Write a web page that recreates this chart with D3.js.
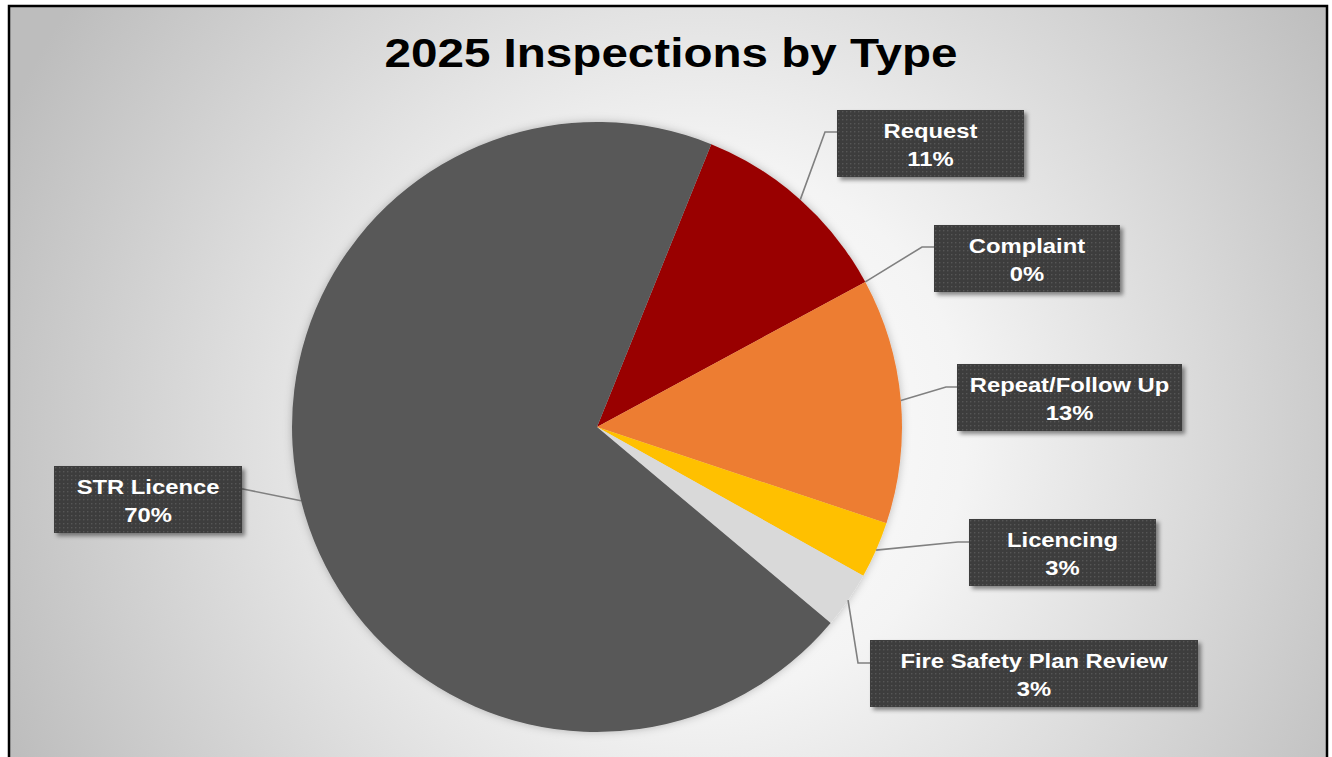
<!DOCTYPE html>
<html>
<head>
<meta charset="utf-8">
<script src="https://cdn.jsdelivr.net/npm/d3@7"></script>
<style>
  html, body { margin: 0; padding: 0; background: #ffffff; }
  svg { display: block; }
</style>
</head>
<body>
<svg id="chart" width="1332" height="757"></svg>
<script>
// Inspection counts by type (percent of total)
const categories = ["Request", "Complaint", "Repeat/Follow Up", "Licencing", "Fire Safety Plan Review", "STR Licence"];
const values = [11, 0, 13, 3, 3, 70];
const labelTexts = ["11%", "0%", "13%", "3%", "3%", "70%"];
const sliceColors = ["#990000", "#c00000", "#ed7d31", "#ffc000", "#d9d9d9", "#595959"];

// Label box placement (left, top, width) and leader-line elbow
const labelLayout = [
  { x: 837, y: 110, w: 187, ex: 825, ey: 132 },
  { x: 934, y: 225, w: 186, ex: 922, ey: 247 },
  { x: 957, y: 364, w: 225, ex: 946, ey: 387 },
  { x: 969, y: 519, w: 187, ex: 958, ey: 542 },
  { x: 870, y: 640, w: 328, ex: 858, ey: 663 },
  { x: 54,  y: 466, w: 188, ex: 243, ey: 489 }
];

const W = 1332, H = 757;
const cx = 597, cy = 427, R = 305;
const startDeg = 22;
const textStretch = 1.19; // wide-set lettering

const svg = d3.select("#chart");
const defs = svg.append("defs");

// Background radial shading
const bg = defs.append("radialGradient")
  .attr("id", "bgGrad")
  .attr("gradientUnits", "userSpaceOnUse")
  .attr("cx", 700).attr("cy", 430).attr("r", 760);
bg.append("stop").attr("offset", 0).attr("stop-color", "#ffffff");
bg.append("stop").attr("offset", 0.35).attr("stop-color", "#f4f4f4");
bg.append("stop").attr("offset", 1).attr("stop-color", "#bdbdbd");

// Dotted texture for label boxes
const pat = defs.append("pattern")
  .attr("id", "dots")
  .attr("patternUnits", "userSpaceOnUse")
  .attr("width", 4).attr("height", 4);
pat.append("rect").attr("width", 4).attr("height", 4).attr("fill", "#3c3c3c");
pat.append("rect").attr("x", 1).attr("y", 1).attr("width", 1.4).attr("height", 1.4).attr("fill", "#575757");

// Soft shadows
const boxShadow = defs.append("filter").attr("id", "boxShadow")
  .attr("x", "-10%").attr("y", "-20%").attr("width", "130%").attr("height", "160%");
boxShadow.append("feDropShadow")
  .attr("dx", 3).attr("dy", 3).attr("stdDeviation", 2.2)
  .attr("flood-color", "#000").attr("flood-opacity", 0.45);

const pieShadow = defs.append("filter").attr("id", "pieShadow")
  .attr("x", "-10%").attr("y", "-10%").attr("width", "120%").attr("height", "120%");
pieShadow.append("feDropShadow")
  .attr("dx", 0).attr("dy", 0).attr("stdDeviation", 4)
  .attr("flood-color", "#000").attr("flood-opacity", 0.25);

// Chart area background and frame
svg.append("rect")
  .attr("x", 9).attr("y", 6).attr("width", 1318).attr("height", 760)
  .attr("fill", "url(#bgGrad)")
  .attr("stroke", "#000").attr("stroke-width", 2.5);

// Title
svg.append("text")
  .attr("transform", `translate(671,67) scale(${textStretch},1)`)
  .attr("text-anchor", "middle")
  .attr("font-family", "'Liberation Sans', Arial, sans-serif")
  .attr("font-weight", "bold")
  .attr("font-size", 40)
  .attr("fill", "#000")
  .text("2025 Inspections by Type");

// Pie
const data = categories.map((c, i) => ({ name: c, value: values[i], label: labelTexts[i], color: sliceColors[i], layout: labelLayout[i] }));

const pie = d3.pie()
  .sort(null)
  .value(d => d.value)
  .startAngle(startDeg * Math.PI / 180)
  .endAngle((startDeg + 360) * Math.PI / 180);

const arcs = pie(data);
const arc = d3.arc().innerRadius(0).outerRadius(R);

const g = svg.append("g").attr("transform", `translate(${cx},${cy})`);
g.append("g").attr("filter", "url(#pieShadow)")
  .selectAll("path")
  .data(arcs)
  .join("path")
  .attr("d", arc)
  .attr("fill", d => d.data.color);

// Leader lines from slice mid-angle on the rim to the label box
const leaders = svg.append("g");
arcs.forEach(a => {
  const mid = (a.startAngle + a.endAngle) / 2;
  const px = cx + R * Math.sin(mid);
  const py = cy - R * Math.cos(mid);
  const L = a.data.layout;
  const boxEdgeX = (L.ex < L.x) ? L.x : L.x + L.w;
  leaders.append("polyline")
    .attr("points", `${px},${py} ${L.ex},${L.ey} ${boxEdgeX},${L.ey}`)
    .attr("fill", "none")
    .attr("stroke", "#808080")
    .attr("stroke-width", 1.6);
});

// Label boxes
const boxH = 67;
const lbl = svg.append("g").selectAll("g")
  .data(arcs)
  .join("g")
  .attr("transform", d => `translate(${d.data.layout.x},${d.data.layout.y})`);

lbl.append("rect")
  .attr("width", d => d.data.layout.w)
  .attr("height", boxH)
  .attr("fill", "url(#dots)")
  .attr("filter", "url(#boxShadow)");

const txt = lbl.append("text")
  .attr("transform", d => `translate(${d.data.layout.w / 2},0) scale(${textStretch},1)`)
  .attr("text-anchor", "middle")
  .attr("font-family", "'Liberation Sans', Arial, sans-serif")
  .attr("font-weight", "bold")
  .attr("font-size", 20)
  .attr("fill", "#ffffff");
txt.append("tspan")
  .attr("x", 0)
  .attr("y", 28)
  .text(d => d.data.name);
txt.append("tspan")
  .attr("x", 0)
  .attr("y", 56)
  .text(d => d.data.label);
</script>
</body>
</html>
